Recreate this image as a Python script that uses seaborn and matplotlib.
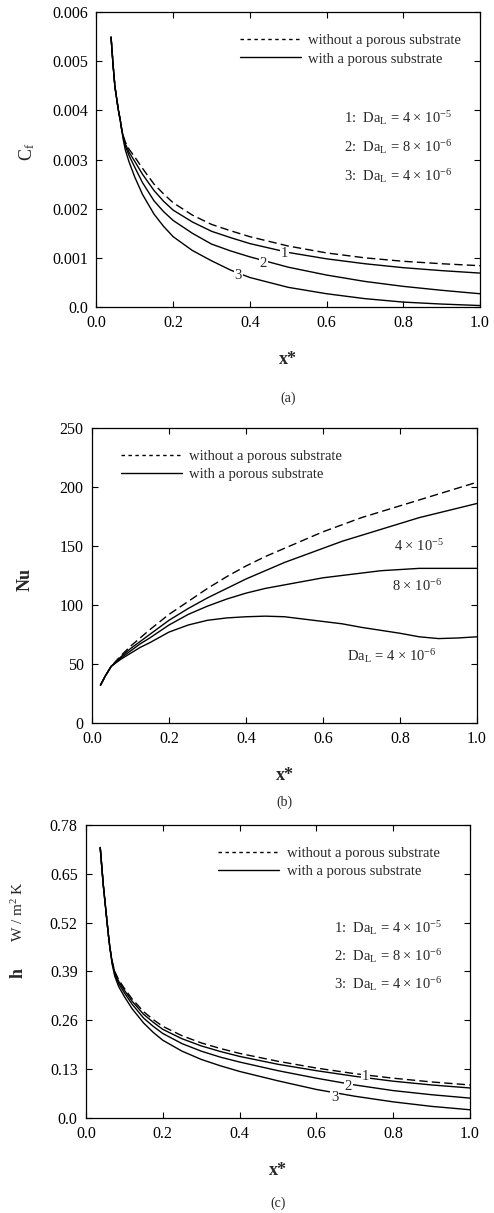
import numpy as np
import pandas as pd
import seaborn as sns
import matplotlib.pyplot as plt
from matplotlib.lines import Line2D

# ---- data ----
# (a) skin friction coefficient
xa = [0.038, 0.043, 0.048, 0.053, 0.057, 0.062, 0.066, 0.07, 0.075, 0.085, 0.1, 0.12, 0.15, 0.175,
      0.2, 0.25, 0.3, 0.35, 0.4, 0.5, 0.6, 0.7, 0.8, 0.9, 1.0]
cf_plain = [0.00549, 0.00495, 0.00449, 0.00422, 0.00401, 0.0038, 0.0036, 0.00348, 0.00336, 0.00321,
            0.00305, 0.00282, 0.0025, 0.0023, 0.00212, 0.00187, 0.00168, 0.00155, 0.00143, 0.00124,
            0.0011, 0.001, 0.00093, 0.00088, 0.00084]
cf_1 = [0.00549, 0.00495, 0.00449, 0.00422, 0.00401, 0.0038, 0.0036, 0.00346, 0.00332, 0.00315,
        0.00296, 0.0027, 0.00237, 0.00215, 0.00197, 0.00173, 0.00154, 0.00141, 0.00129, 0.00111,
        0.00098, 0.00088, 0.0008, 0.00074, 0.00069]
cf_2 = [0.00549, 0.00495, 0.00449, 0.00422, 0.00401, 0.0038, 0.0036, 0.00344, 0.00328, 0.00308,
        0.00284, 0.00253, 0.00216, 0.00194, 0.00176, 0.0015, 0.00128, 0.00114, 0.00102, 0.00081,
        0.00065, 0.00052, 0.00042, 0.00034, 0.00027]
cf_3 = [0.00549, 0.00495, 0.00449, 0.00422, 0.00401, 0.0038, 0.0036, 0.0034, 0.0032, 0.00295,
        0.00264, 0.00229, 0.00189, 0.00164, 0.00143, 0.00115, 0.00094, 0.00075, 0.0006, 0.0004,
        0.00027, 0.00017, 0.0001, 0.00006, 0.00003]

# (b) Nusselt number
xb = [0.022, 0.035, 0.05, 0.075, 0.1, 0.125, 0.15, 0.2, 0.25, 0.3, 0.35, 0.4, 0.45, 0.5,
      0.55, 0.6, 0.65, 0.7, 0.75, 0.8, 0.85, 0.9, 0.95, 1.0]
nu_plain = [32, 40, 48, 57, 65, 72, 79, 92, 103, 114, 124, 133, 141, 148,
            155, 162, 168, 174, 179, 184, 189, 194, 199, 204]
nu_1 = [32, 40, 48, 56, 63, 69, 75, 87, 97, 106, 114, 122, 129, 136,
        142, 148, 154, 159, 164, 169, 174, 178, 182, 186]
nu_2 = [32, 40, 48, 55, 61, 67, 72, 83, 92, 99, 105, 110, 114, 117,
        120, 123, 125, 127, 129, 130, 131, 131, 131, 131]
nu_3 = [32, 40, 48, 54, 59, 64, 68, 77, 83, 87, 89, 90, 90.5, 90,
        88, 86, 84, 81, 78.5, 76, 73, 71.5, 72, 73]

# (c) heat transfer coefficient
xc = [0.037, 0.041, 0.045, 0.05, 0.054, 0.058, 0.062, 0.068, 0.075, 0.085, 0.1, 0.12, 0.15, 0.175,
      0.2, 0.25, 0.3, 0.35, 0.4, 0.5, 0.6, 0.7, 0.8, 0.9, 1.0]
h_plain = [0.72, 0.67, 0.62, 0.57, 0.53, 0.49, 0.455, 0.418, 0.39, 0.368, 0.345, 0.317, 0.283, 0.262,
           0.244, 0.219, 0.2, 0.185, 0.172, 0.151, 0.133, 0.118, 0.106, 0.096, 0.088]
h_1 = [0.72, 0.67, 0.62, 0.57, 0.53, 0.49, 0.455, 0.416, 0.387, 0.364, 0.34, 0.311, 0.276, 0.255,
       0.236, 0.211, 0.192, 0.177, 0.164, 0.143, 0.126, 0.111, 0.098, 0.088, 0.08]
h_2 = [0.72, 0.67, 0.62, 0.57, 0.53, 0.49, 0.455, 0.414, 0.383, 0.358, 0.333, 0.303, 0.266, 0.244,
       0.225, 0.198, 0.178, 0.162, 0.149, 0.126, 0.106, 0.088, 0.073, 0.062, 0.053]
h_3 = [0.72, 0.67, 0.62, 0.57, 0.53, 0.49, 0.455, 0.41, 0.377, 0.35, 0.323, 0.291, 0.253, 0.228,
       0.207, 0.178, 0.156, 0.139, 0.124, 0.099, 0.076, 0.058, 0.043, 0.031, 0.022]

legend_labels = ['without a porous substrate', 'with a porous substrate']
da_labels = [r'1:  Da$_\mathregular{L}$ = 4 × 10$^{-5}$',
             r'2:  Da$_\mathregular{L}$ = 8 × 10$^{-6}$',
             r'3:  Da$_\mathregular{L}$ = 4 × 10$^{-6}$']

sns.set_theme(style='ticks')
plt.rcParams['font.family'] = ['Liberation Serif', 'DejaVu Serif']
plt.rcParams['mathtext.fontset'] = 'custom'
plt.rcParams['mathtext.rm'] = 'Liberation Serif'
plt.rcParams['mathtext.it'] = 'Liberation Serif:italic'
plt.rcParams['mathtext.bf'] = 'Liberation Serif:bold'
plt.rcParams['axes.linewidth'] = 0.9

fig = plt.figure(figsize=(4.94, 12.13), dpi=100)
ax_a = fig.add_axes([0.1953, 0.7469, 0.7763, 0.2432])
ax_b = fig.add_axes([0.1862, 0.4040, 0.7794, 0.2432])
ax_c = fig.add_axes([0.1741, 0.0783, 0.7773, 0.2416])

LW = 1.0
DASH = (6, 3)


def draw(ax, x, plain, curves):
    sns.lineplot(x=x, y=plain, ax=ax, color='black', lw=LW)
    ax.lines[-1].set_dashes(DASH)
    for c in curves:
        sns.lineplot(x=x, y=c, ax=ax, color='black', lw=LW)


def style(ax, yticks, ylabels):
    ax.set_xlim(0, 1.0)
    ax.set_xticks([0, 0.2, 0.4, 0.6, 0.8, 1.0])
    ax.set_xticklabels(['0.0', '0.2', '0.4', '0.6', '0.8', '1.0'])
    ax.set_yticks(yticks)
    ax.set_yticklabels(ylabels)
    ax.tick_params(direction='in', top=True, right=True, length=4, width=0.8,
                   labelsize=11.5, pad=6, colors='black')
    for s in ax.spines.values():
        s.set_color('black')
    ax.set_xlabel('x*', fontsize=13, fontweight='bold', labelpad=14)
    ax.set_ylabel('')


def legend(ax, **kw):
    handles = [Line2D([], [], color='black', lw=LW, dashes=(2.5, 2.5)),
               Line2D([], [], color='black', lw=LW)]
    ax.legend(handles, legend_labels, frameon=False, fontsize=10.5,
              handlelength=4.2, handletextpad=0.5, labelspacing=0.35, **kw)


def tag(ax, x, y, s):
    ax.text(x, y, s, ha='center', va='center', fontsize=10.5,
            bbox=dict(fc='white', ec='none', pad=0.6))


# (a)
draw(ax_a, xa, cf_plain, [cf_1, cf_2, cf_3])
ax_a.set_ylim(0, 0.006)
style(ax_a, [0, 0.001, 0.002, 0.003, 0.004, 0.005, 0.006],
      ['0.0', '0.001', '0.002', '0.003', '0.004', '0.005', '0.006'])
legend(ax_a, loc='upper right', bbox_to_anchor=(0.985, 0.97))
for i, s in enumerate(da_labels):
    ax_a.text(0.645, 0.64 - i * 0.098, s, transform=ax_a.transAxes, fontsize=10.5, va='center')
tag(ax_a, 0.49, 0.00108, '1')
tag(ax_a, 0.435, 0.00088, '2')
tag(ax_a, 0.37, 0.00064, '3')
ax_a.text(-0.18, 0.525, r'C$_\mathregular{f}$', transform=ax_a.transAxes, rotation=90,
          ha='center', va='center', fontsize=13)
ax_a.text(0.5, -0.31, '(a)', transform=ax_a.transAxes, ha='center', va='center', fontsize=10)

# (b)
draw(ax_b, xb, nu_plain, [nu_1, nu_2, nu_3])
ax_b.set_ylim(0, 250)
style(ax_b, [0, 50, 100, 150, 200, 250], ['0', '50', '100', '150', '200', '250'])
legend(ax_b, loc='upper left', bbox_to_anchor=(0.04, 0.97))
ax_b.text(0.85, 150, r'4 × 10$^{-5}$', ha='center', va='center', fontsize=10.5)
ax_b.text(0.845, 116, r'8 × 10$^{-6}$', ha='center', va='center', fontsize=10.5)
ax_b.text(0.78, 57, r'Da$_\mathregular{L}$ = 4 × 10$^{-6}$', ha='center', va='center', fontsize=10.5)
ax_b.text(-0.174, 0.485, 'Nu', transform=ax_b.transAxes, rotation=90,
          ha='center', va='center', fontsize=13, fontweight='bold')
ax_b.text(0.5, -0.27, '(b)', transform=ax_b.transAxes, ha='center', va='center', fontsize=10)

# (c)
draw(ax_c, xc, h_plain, [h_1, h_2, h_3])
ax_c.set_ylim(0, 0.78)
style(ax_c, [0, 0.13, 0.26, 0.39, 0.52, 0.65, 0.78],
      ['0.0', '0.13', '0.26', '0.39', '0.52', '0.65', '0.78'])
legend(ax_c, loc='upper right', bbox_to_anchor=(0.955, 0.97))
for i, s in enumerate(da_labels):
    ax_c.text(0.645, 0.65 - i * 0.097, s, transform=ax_c.transAxes, fontsize=10.5, va='center')
tag(ax_c, 0.727, 0.111, '1')
tag(ax_c, 0.683, 0.085, '2')
tag(ax_c, 0.648, 0.054, '3')
ax_c.text(-0.177, 0.495, 'h', transform=ax_c.transAxes, rotation=90,
          ha='center', va='center', fontsize=13, fontweight='bold')
ax_c.text(-0.177, 0.705, r'W / m$^2$ K', transform=ax_c.transAxes, rotation=90,
          ha='center', va='center', fontsize=11)
ax_c.text(0.5, -0.29, '(c)', transform=ax_c.transAxes, ha='center', va='center', fontsize=10)

fig.savefig('out.png', dpi=100, facecolor='white')
